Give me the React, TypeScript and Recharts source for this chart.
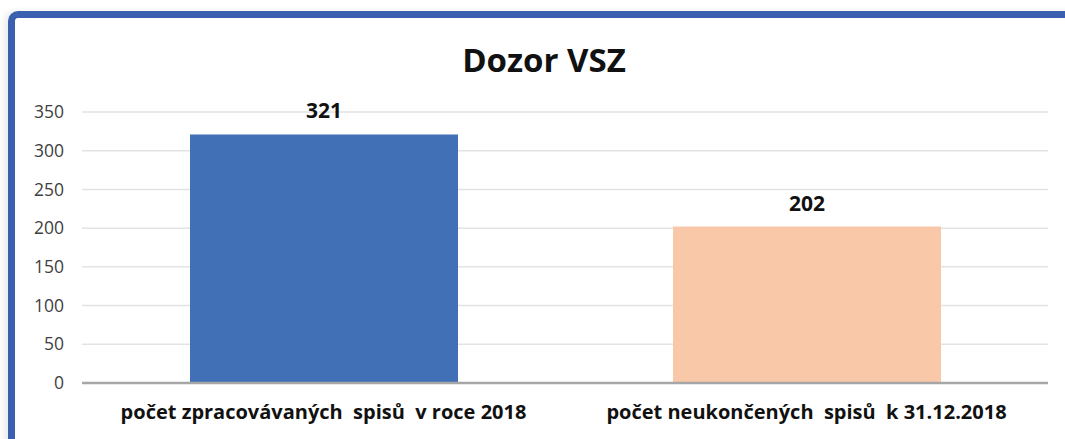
import React from "react";
import { BarChart, Bar, XAxis, YAxis, CartesianGrid, LabelList, Cell } from "recharts";

const categories = [
  "počet zpracovávaných \u00a0spisů \u00a0v roce 2018",
  "počet neukončených \u00a0spisů \u00a0k 31.12.2018",
];
const values = [321, 202];
const barColors = ["#4170b7", "#f8c8a8"];
const yTicks = [0, 50, 100, 150, 200, 250, 300, 350];

const data = categories.map((name, i) => ({ name, value: values[i] }));

const FONT = "'Open Sans', 'Noto Sans', sans-serif";

export default function App() {
  return (
    <div
      style={{
        position: "absolute",
        left: 0,
        top: 0,
        width: 1065,
        height: 439,
        overflow: "hidden",
        background: "#fff",
        fontFamily: FONT,
      }}
    >
      {/* blue frame, only left and top edges fall inside the crop */}
      <div
        style={{
          position: "absolute",
          left: 8,
          top: 11,
          width: 1200,
          height: 600,
          borderLeft: "7px solid #3b60b0",
          borderTop: "7px solid #3b60b0",
          borderTopLeftRadius: 10,
          boxShadow: "-4px 0 6px rgba(0,0,0,0.08)",
        }}
      />
      <div
        style={{
          position: "absolute",
          top: 37,
          left: 0,
          width: 1088,
          textAlign: "center",
          fontSize: 33,
          fontWeight: 700,
          color: "#111",
        }}
      >
        Dozor VSZ
      </div>
      <div style={{ position: "absolute", left: 0, top: 0 }}>
        <BarChart
          width={1065}
          height={439}
          data={data}
          margin={{ top: 112, right: 17, left: 22, bottom: 16 }}
        >
          <CartesianGrid vertical={false} stroke="#e3e3e3" strokeWidth={1.5} />
          <XAxis
            dataKey="name"
            tickLine={false}
            axisLine={{ stroke: "#a6a6a6", strokeWidth: 2.5 }}
            height={40}
            interval={0}
            tickMargin={16}
            tick={{ fill: "#111", fontSize: 20, fontWeight: 700, fontFamily: FONT }}
          />
          <YAxis
            width={60}
            domain={[0, 350]}
            ticks={yTicks}
            tickLine={false}
            axisLine={false}
            tickMargin={12}
            tick={{ fill: "#404040", fontSize: 17.5, fontFamily: FONT }}
          />
          <Bar dataKey="value" barSize={268} isAnimationActive={false}>
            {data.map((d, i) => (
              <Cell key={d.name} fill={barColors[i]} />
            ))}
            <LabelList
              dataKey="value"
              position="top"
              offset={16}
              style={{ fill: "#111", fontSize: 21, fontWeight: 700, fontFamily: FONT }}
            />
          </Bar>
        </BarChart>
      </div>
    </div>
  );
}
